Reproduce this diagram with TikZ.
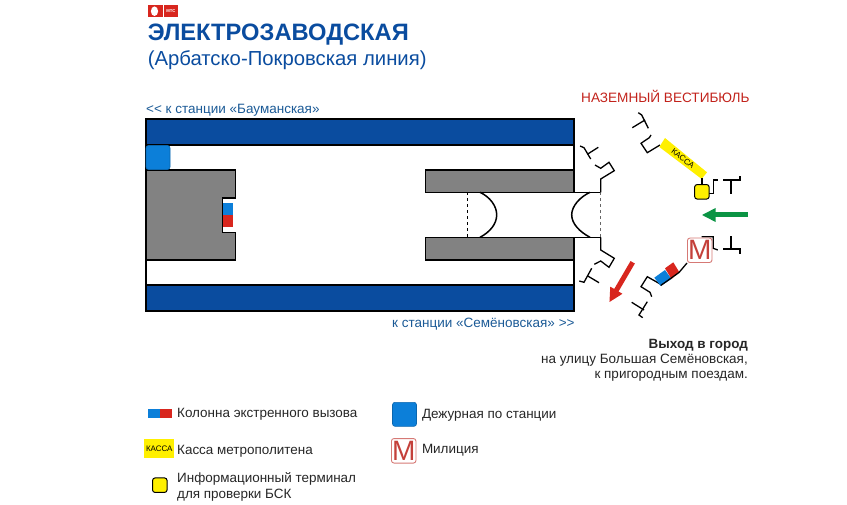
\documentclass[tikz,border=0pt]{standalone}
\usepackage{fontspec}
\setmainfont{Liberation Sans}
\usetikzlibrary{arrows.meta, positioning}
\definecolor{mtsblue}{HTML}{0A4C9F}
\definecolor{inkblue}{HTML}{1B5A96}
\definecolor{dutyblue}{HTML}{0C7FD9}
\definecolor{mtsred}{HTML}{D8261E}
\definecolor{policered}{HTML}{C4403A}
\definecolor{cashyellow}{HTML}{FFF000}
\definecolor{platgray}{HTML}{828282}
\definecolor{exitgreen}{HTML}{0B9444}
\begin{document}
\begin{tikzpicture}[
x=1pt, y=-1pt,
wall/.style={draw=black, line width=1.3pt},
door/.style={draw=black, line width=1.3pt},
lbl/.style={anchor=west, inner sep=0pt, align=left, font=\fontsize{13.45}{16.5}\selectfont, text=black!85},
linklbl/.style={anchor=west, inner sep=0pt, font=\fontsize{13.5}{15}\selectfont, text=inkblue},
duty/.style={draw=dutyblue!80!black, line width=0.6pt, fill=dutyblue, rounded corners=2.5pt, minimum size=24pt, inner sep=0pt},
term/.style={draw=black, line width=1pt, fill=cashyellow, rounded corners=2.5pt, minimum size=14.5pt, inner sep=0pt},
police/.style={draw=policered!70, line width=0.9pt, fill=white, rounded corners=2.5pt, minimum width=24.5pt, minimum height=24.5pt, inner sep=0pt, text=policered, font=\fontsize{28}{28}\selectfont},
bigarrow/.style={line width=5pt, -{Triangle[length=14pt, width=13pt]}}
]
\useasboundingbox (0,0) rectangle (847,505);

\fill[mtsred] (148.3,5) rectangle (163.2,17.3);
\fill[mtsred] (164.2,5) rectangle (177.7,17.3);
\fill[white] (154.5,11.2) ellipse (3.6 and 4.8);
\node[inner sep=0pt, text=white, font=\bfseries\fontsize{4.2}{5}\selectfont] (logo) at (170.9,11.2) {МТС};

\node[anchor=west, inner sep=0pt, text=mtsblue, font=\bfseries\fontsize{23.7}{26}\selectfont] (title) at (147.6,35) {ЭЛЕКТРОЗАВОДСКАЯ};
\node[anchor=west, inner sep=0pt, text=mtsblue, font=\fontsize{20.3}{22}\selectfont] (line) at (147.6,60.5) {(Арбатско-Покровская линия)};
\node[linklbl] (toleft) at (146,110) {{<}{<} к станции «Бауманская»};
\node[linklbl] (toright) at (392,324.5) {к станции «Семёновская» {>}{>}};
\node[anchor=west, inner sep=0pt, text=mtsred!90!black, font=\fontsize{13.6}{16}\selectfont] (hall) at (581,96.5) {НАЗЕМНЫЙ ВЕСТИБЮЛЬ};

\draw[wall, fill=mtsblue] (146,119) rectangle (574,145);
\draw[wall, fill=mtsblue] (146,285) rectangle (574,311);
\draw[wall] (146,145) -- (146,285);
\draw[wall] (574,145) -- (574,170);
\draw[wall] (574,260) -- (574,285);

\draw[wall, fill=platgray] (146,170) -- (235.5,170) -- (235.5,198) -- (222.5,198) -- (222.5,232.5) -- (235.5,232.5) -- (235.5,260) -- (146,260) -- cycle;
\fill[dutyblue] (223.3,203) rectangle (233.3,215);
\fill[mtsred] (223.3,215) rectangle (233.3,227);
\node[duty] (dutyplan) at (158,157.5) {};

\draw[wall, fill=platgray] (425.3,170) rectangle (574,192.3);
\draw[wall, fill=platgray] (425.3,237.3) rectangle (574,260);
\draw[wall] (574,192.3) -- (600.7,192.3);
\draw[wall] (574,237.3) -- (600.7,237.3);
\draw[line width=1pt, dashed] (467.3,192.3) -- (467.3,237.3);
\draw[line width=1pt, dashed, black!60] (600.7,192.3) -- (600.7,237.3);
\draw[line width=1.5pt] (480,192.3) .. controls (490,197) and (496.7,206) .. (496.7,214.8) .. controls (496.7,224) and (490,232) .. (480,237.3);
\draw[line width=1.5pt] (590,192.3) .. controls (580,197) and (571.7,206) .. (571.7,214.8) .. controls (571.7,224) and (580,232) .. (590,237.3);

\draw[door] (600.7,192.3) -- (600.7,179) -- (614.3,170.7) -- (609,162.3) -- (600.7,168.3) -- (595,165);
\draw[door] (580,146) -- (584,147.7) -- (590.7,159);
\draw[door] (587.3,154.3) -- (598.3,147.3);
\draw[door] (600.7,237.3) -- (600.7,250) -- (614.3,258.3) -- (609,267.3) -- (600.7,261) -- (594.3,264.3);
\draw[door] (591.7,268.3) -- (584,282.3) -- (579.3,281);
\draw[door] (587.3,275.7) -- (599,282.7);

\draw[door] (660,145) -- (647.3,152.7) -- (641,143.3) -- (649.3,137.7) -- (651,135);
\draw[door] (638.3,112.7) -- (641.7,115) -- (648.3,128.3);
\draw[door] (632.3,127.7) -- (645,120);
\draw[door] (709,193.3) -- (713.3,193.3) -- (713.3,180) -- (717.7,180);
\draw[door] (723.3,180) -- (740,180) -- (740,175.7);
\draw[door] (731,180) -- (731,194);

\fill[cashyellow] (665,138) -- (659.3,147) -- (701.7,179) -- (707,172.3) -- cycle;
\node[rotate=-37, inner sep=0pt, font=\fontsize{8}{9}\selectfont] (cashplan) at (683,158.5) {КАССА};
\node[term] (termplan) at (701.9,191.8) {};
\draw[door] (termplan.north) -- (701.9,178);

\draw[door] (701.7,236.7) -- (713.3,236.7) -- (713.3,248.3) -- (717.7,250);
\draw[door] (723.3,249) -- (740,249) -- (740,254);
\draw[door] (731,249) -- (731,235.7);
\draw[door] (660.7,284.3) -- (647.3,276.7) -- (641,286.7) -- (650,292.3) -- (651.7,296.7);
\draw[door] (631.7,302.3) -- (644,310);
\draw[door] (647.3,301.7) -- (639,315) -- (642.7,317.7);

\fill[dutyblue] (654.3,277.7) -- (665,270) -- (671.5,279) -- (660.7,286) -- cycle;
\fill[mtsred] (665,268.3) -- (673.3,262.3) -- (679,271.7) -- (671.5,279) -- cycle;
\node[police] (policeplan) at (699.7,250.3) {М};
\draw[door] (660.7,285.5) -- (679,272.5) -- (policeplan.south west);

\draw[bigarrow, exitgreen] (747.7,215) -- (701.7,215);
\draw[bigarrow, mtsred] (632.7,262.3) -- (609.3,302.3);

\node[anchor=east, inner sep=0pt, font=\bfseries\fontsize{13.45}{15}\selectfont, text=black!85] (exithead) at (748,345.5) {Выход в город};
\node[anchor=east, inner sep=0pt, align=right, font=\fontsize{13.5}{15.4}\selectfont, text=black!85] (exittext) at (748,367.7) {на улицу Большая Семёновская,\\к пригородным поездам.};

\fill[dutyblue] (147.7,409) rectangle (160,417.7);
\fill[mtsred] (160,409) rectangle (171.7,417.7);
\node[lbl] (columntext) at (177,414.5) {Колонна экстренного вызова};
\fill[cashyellow] (144.3,439.3) rectangle (174.3,458.3);
\node[inner sep=0pt, font=\fontsize{8}{9}\selectfont] (cashkey) at (159.3,449.2) {КАССА};
\node[lbl] (cashtext) at (177,451) {Касса метрополитена};
\node[term] (termkey) at (159.8,485.2) {};
\node[lbl] (termtext) at (177,487) {Информационный терминал\\для проверки БСК};
\node[duty] (dutykey) at (404.5,414.3) {};
\node[lbl] (dutytext) at (421.8,415) {Дежурная по станции};
\node[police] (policekey) at (403.7,450.8) {М};
\node[lbl] (policetext) at (421.8,450.5) {Милиция};
\end{tikzpicture}
\end{document}
